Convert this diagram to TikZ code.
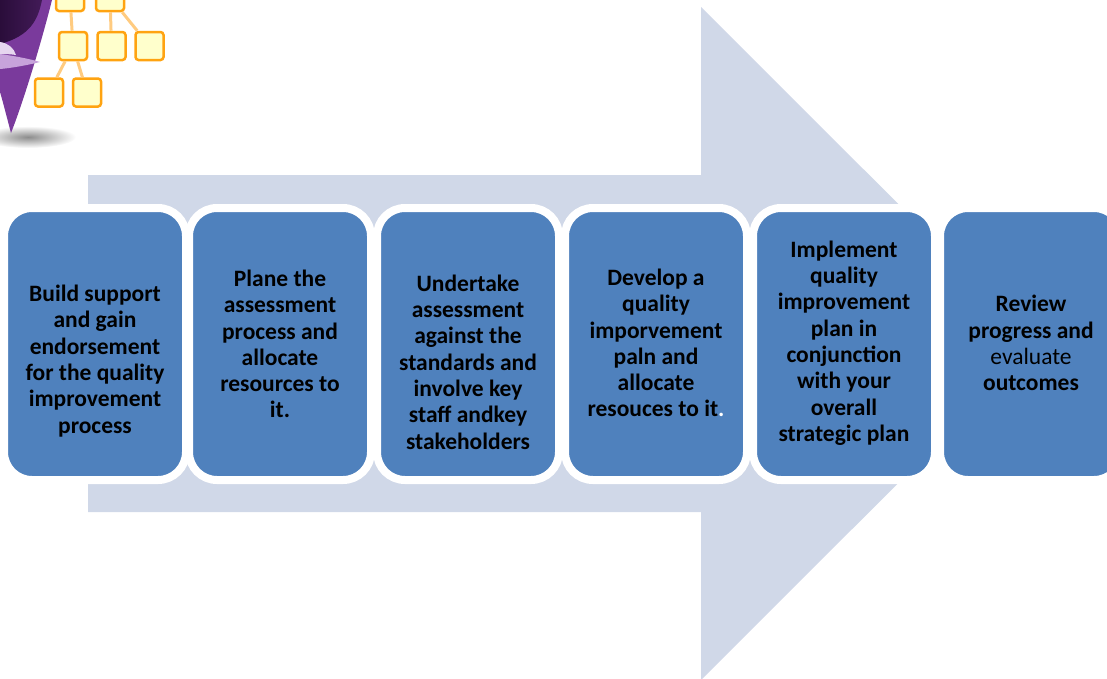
\documentclass[tikz,border=0pt]{standalone}
\usepackage{fontspec}
\setmainfont{Carlito}

\definecolor{arrowfill}{HTML}{D0D8E8}
\definecolor{stepblue}{HTML}{4F81BD}
\definecolor{orgline}{HTML}{FFCB80}
\definecolor{orgedge}{HTML}{FFA311}
\definecolor{orgfill}{HTML}{FFFFCC}
\definecolor{funnel}{HTML}{7A3A9C}
\definecolor{funneldark}{HTML}{2A0D3A}
\definecolor{funnellight}{HTML}{C7A3DB}

\tikzset{
    stepbox/.style={draw=white, line width=8pt, fill=stepblue, rounded corners=28pt,
        minimum width=182pt, minimum height=272pt},
    steptext/.style={align=center, font=\fontsize{23.5}{26.3}\selectfont\bfseries},
    orgbox/.style={draw=orgedge, fill=orgfill, line width=2.5pt, rounded corners=3pt,
        minimum size=28pt, inner sep=0pt},
    orglink/.style={draw=orgline, line width=3pt},
}

\begin{document}
\begin{tikzpicture}[x=1pt, y=-1pt]
    \clip (0,0) rectangle (1107,678);

    % big arrow behind the steps
    \fill[arrowfill] (88,175) -- (701,175) -- (701,7) -- (1038,343.5) -- (701,680)
        -- (701,512) -- (88,512) -- cycle;

    % the six steps
    \node[stepbox] (b1) at (95,344) {};
    \node[stepbox] (b2) at (280,344) {};
    \node[stepbox] (b3) at (468,344) {};
    \node[stepbox] (b4) at (656,344) {};
    \node[stepbox] (b5) at (844,344) {};
    \node[stepbox] (b6) at (1031,344) {};

    \node[steptext] (t1) at (95,361) {Build support\\ and gain\\ endorsement\\ for the quality\\ improvement\\ process};
    \node[steptext] (t2) at (280,344) {Plane the\\ assessment\\ process and\\ allocate\\ resources to\\ it.};
    \node[steptext] (t3) at (468,362) {Undertake\\ assessment\\ against the\\ standards and\\ involve key\\ staff andkey\\ stakeholders};
    \node[steptext] (t4) at (656,343) {Develop a\\ quality\\ imporvement\\ paln and\\ allocate\\ resouces to it\textcolor{white}{.}};
    \node[steptext] (t5) at (844,343) {Implement\\ quality\\ improvement\\ plan in\\ conjunction\\ with your\\ overall\\ strategic plan};
    \node[steptext] (t6) at (1031,343) {Review\\ progress and\\ {\mdseries evaluate}\\ outcomes};

    % funnel in the corner
    \shade[inner color=black!45, outer color=white] (28,137) ellipse [x radius=48, y radius=11];
    \fill[funnel] (0,0) -- (52,0) .. controls (42,40) and (24,100) .. (11,133)
        .. controls (7,118) and (3,102) .. (0,92) -- cycle;
    \shade[left color=funneldark, right color=funneldark!70!funnel]
        (0,0) -- (42,0) .. controls (38,20) and (30,36) .. (0,44) -- cycle;
    \fill[funnellight!45] (0,42) .. controls (8,43) and (14,48) .. (16,55)
        .. controls (10,54) and (4,54) .. (0,54) -- cycle;
    \fill[funnellight] (0,54) .. controls (15,56) and (30,59) .. (40,62)
        .. controls (28,65) and (12,68) .. (0,69) -- cycle;

    % small org chart
    \node[orgbox] (o1) at (70,-3) {};
    \node[orgbox] (o2) at (110,-3) {};
    \node[orgbox] (o3) at (73,46) {};
    \node[orgbox] (o4) at (111.5,46) {};
    \node[orgbox] (o5) at (149.5,46) {};
    \node[orgbox] (o6) at (49,92.5) {};
    \node[orgbox] (o7) at (87,92.5) {};

    \draw[orglink] (o1) -- (o3);
    \draw[orglink] (o2) -- (o4);
    \draw[orglink] (o2) -- (o5);
    \draw[orglink] (o3) -- (o6);
    \draw[orglink] (o3) -- (o7);

\end{tikzpicture}
\end{document}
